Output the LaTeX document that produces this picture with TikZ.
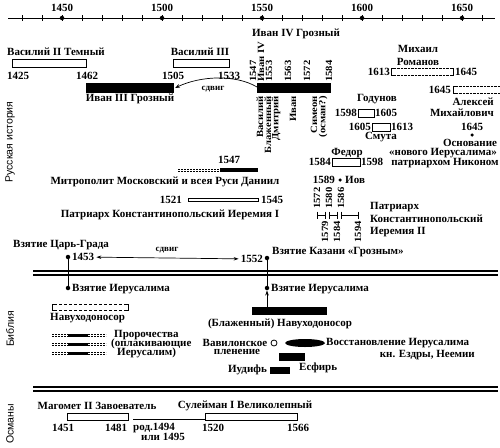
\documentclass[tikz,border=0pt]{standalone}
\usepackage{fontspec}
\setmainfont{Liberation Serif}
\setsansfont{Liberation Sans}
\newfontfamily\vfont[FakeStretch=1.12]{Liberation Serif}
\usetikzlibrary{arrows.meta}
\begin{document}
\begin{tikzpicture}[x=1pt,y=-1pt,
  every path/.style={>={Stealth[length=5pt,width=3.5pt]}},
  every node/.style={inner sep=0pt,font=\bfseries\fontsize{11}{12}\selectfont},
  small/.style={font=\bfseries\fontsize{9}{10}\selectfont},
  up/.style={rotate=90,font=\vfont\bfseries\fontsize{9.5}{10}\selectfont},
  side/.style={rotate=90,font=\sffamily\fontsize{10.5}{11}\selectfont},
  dot/.style={circle,fill=black,minimum size=4.5pt},
  openbar/.style={draw,line width=0.9pt,fill=white},
  sep/.style={line width=1.1pt}]
\useasboundingbox (0,0) rectangle (500,447);

\draw[line width=0.9pt] (8,18) -- (495,18);
\foreach \i in {0,...,23} \draw[line width=0.8pt] ({22+20*\i},15) -- ({22+20*\i},21);
\foreach \yr/\xx in {1450/62,1500/162,1550/262,1600/362,1650/462} {
  \node[dot] (d\yr) at (\xx,18) {};
  \node (t\yr) at (\xx,8) {\yr};
}

\node[side] (rus) at (10,142) {Русская история};
\node[side] (bib) at (10,329) {Библия};
\node[side] (osm) at (10,424) {Османы};

\draw[openbar] (12,59) rectangle (86,67);
\node[anchor=west] (vas2) at (7,52) {Василий II Темный};
\node (y1425) at (18,76) {1425};
\node (y1462) at (87,76) {1462};

\draw[openbar] (173,59) rectangle (229,67);
\node (vas3) at (200,52) {Василий III};
\node (y1505) at (173,76) {1505};
\node (y1533) at (229,76) {1533};

\fill (86,83) rectangle (174,93);
\coordinate (iv3) at (175,88);
\node (ivan3) at (130,99) {Иван III Грозный};

\fill (257,83) rectangle (331,93);
\coordinate (iv4) at (257,87);
\node (ivan4) at (296,34) {Иван IV Грозный};
\draw[->,line width=0.7pt] (iv4) .. controls (235,74) and (200,76) .. (iv3);
\node[small] (sdv1) at (213,89) {сдвиг};

\node[up,anchor=west] (a1547) at (253,82) {1547};
\node[up,anchor=west] (aiv) at (261,82) {Иван IV};
\node[up,anchor=west] (a1553) at (269,82) {1553};
\node[up,anchor=west] (a1563) at (288,82) {1563};
\node[up,anchor=west] (a1572) at (307,82) {1572};
\node[up,anchor=west] (a1584) at (329,82) {1584};
\node[up,anchor=east] (bvas) at (260,96) {Василий};
\node[up,anchor=east] (bbla) at (268,96) {Блаженный};
\node[up,anchor=east] (bdmi) at (276,96) {Дмитрий};
\node[up,anchor=east] (biva) at (293,96) {Иван};
\node[up,anchor=east] (bsim) at (314,96) {Симеон};
\node[up,anchor=east] (bosm) at (323,96) {(осман?)};

\node (mih) at (418,49) {Михаил};
\node (rom) at (418,62) {Романов};
\draw[densely dotted] (391,68) -- (453,68) (391,75) -- (453,75);
\draw (394,68) -- (391,68) -- (391,75) -- (394,75);
\draw (450,68) -- (453,68) -- (453,75) -- (450,75);
\node[anchor=east] (r1613) at (390,72) {1613};
\node[anchor=west] (r1645) at (455,72) {1645};

\draw[densely dotted] (453,86) -- (500,86) (453,93) -- (500,93);
\draw (456,86) -- (453,86) -- (453,93) -- (456,93);
\node[anchor=east] (al1645) at (451,90) {1645};
\node[anchor=east] (alex) at (494,102) {Алексей};
\node[anchor=east] (mihv) at (494,113) {Михайлович};

\node (god) at (377,99) {Годунов};
\draw[openbar] (358,109) rectangle (374,117);
\node[anchor=east] (g1598) at (357,113) {1598};
\node[anchor=west] (g1605) at (375,113) {1605};

\draw[openbar] (372,123) rectangle (390,131);
\node[anchor=east] (s1605) at (371,127) {1605};
\node[anchor=west] (s1613) at (391,127) {1613};
\node (smuta) at (381,137) {Смута};

\node (fed) at (347,153) {Федор};
\draw[openbar] (332,158) rectangle (360,166);
\node[anchor=east] (f1584) at (331,162) {1584};
\node[anchor=west] (f1598) at (361,162) {1598};

\node (n1645) at (472,127) {1645};
\node[dot,minimum size=3.5pt] (ndot) at (472,135) {};
\node (osn) at (470,143) {Основание};
\node (nov) at (443,153) {«нового Иерусалима»};
\node (nik) at (445,163) {патриархом Никоном};

\node[anchor=east] (i1589) at (335,180) {1589};
\node[dot,minimum size=3.5pt] (idot) at (340,180) {};
\node[anchor=west] (iov) at (345,180) {Иов};

\node (m1547) at (229,160) {1547};
\draw[dash pattern=on 2pt off 1pt] (178,168.8) -- (220,168.8) (178,171.2) -- (220,171.2);
\draw[line width=3.2pt] (220,170) -- (258,170);
\node (dan) at (165,182) {Митрополит Московский и всея Руси Даниил};

\node[anchor=east] (e1521) at (182,200) {1521};
\draw[line width=0.8pt] (188,198.3) rectangle (258,201.7);
\node[anchor=west] (e1545) at (261,200) {1545};
\node (ier1) at (170,215) {Патриарх Константинопольский Иеремия I};

\foreach \xa/\xb in {317/325,329/337,341/358} {
  \draw[line width=0.8pt] (\xa,215) -- (\xb,215) (\xa,211.5) -- (\xa,218.5) (\xb,211.5) -- (\xb,218.5);
}
\node[up,anchor=west] (p1572) at (317,209) {1572};
\node[up,anchor=west] (p1580) at (329,209) {1580};
\node[up,anchor=west] (p1586) at (341,209) {1586};
\node[up,anchor=east] (p1579) at (325,221) {1579};
\node[up,anchor=east] (p1584) at (337,221) {1584};
\node[up,anchor=east] (p1594) at (358,221) {1594};
\node[anchor=west] (ier2a) at (370,207) {Патриарх};
\node[anchor=west] (ier2b) at (370,219) {Константинопольский};
\node[anchor=west] (ier2c) at (370,232) {Иеремия II};

\node[anchor=west] (car) at (13,245) {Взятие Царь-Града};
\node[dot] (c1453) at (68,257) {};
\node[anchor=west] (y1453) at (72,257) {1453};
\node[dot] (c1552) at (267,258) {};
\node[anchor=east] (y1552) at (263,259) {1552};
\node[anchor=west] (kaz) at (272,252) {Взятие Казани «Грозным»};
\draw[<->,line width=0.7pt,shorten <=2pt,shorten >=2pt] (y1453) -- (y1552);
\node[small] (sdv2) at (167,250) {сдвиг};

\draw[sep] (33,271) -- (498,271);
\draw[sep] (33,275) -- (498,275);

\node[dot] (j1) at (68,288) {};
\node[anchor=west] (jer1) at (72,289) {Взятие Иерусалима};
\draw[line width=0.8pt] (c1453) -- (j1);
\node[dot] (j2) at (267,288) {};
\node[anchor=west] (jer2) at (271,289) {Взятие Иерусалима};
\draw[line width=0.8pt] (c1552) -- (j2);

\draw[dash pattern=on 3pt off 2pt] (54,304) -- (126,304) (54,310) -- (126,310);
\draw (55,304) -- (52,304) -- (52,310) -- (55,310);
\draw (125,304) -- (128,304) -- (128,310) -- (125,310);
\node[anchor=west] (nav1) at (50,318) {Навуходоносор};

\node[fill=black,minimum width=75pt,minimum height=8pt] (nav2) at (289.5,311) {};
\draw[->,line width=0.8pt] (nav2.north -| j2) -- (j2);
\node (blnav) at (280,324) {(Блаженный) Навуходоносор};

\foreach \yy in {335,344,353} {
  \draw[dash pattern=on 2pt off 1pt] (52,\yy-1.2) -- (68,\yy-1.2) (52,\yy+1.2) -- (68,\yy+1.2);
  \draw[line width=3pt] (68,\yy) -- (88,\yy);
  \draw[dash pattern=on 2pt off 1pt] (88,\yy-1.2) -- (106,\yy-1.2) (88,\yy+1.2) -- (106,\yy+1.2);
}
\node[anchor=west] (pr1) at (114,335) {Пророчества};
\node[anchor=west] (pr2) at (111,344) {(оплакивающие};
\node[anchor=west] (pr3) at (117,353) {Иерусалим)};

\node (vav) at (235,343) {Вавилонское};
\node (plen) at (237,352) {пленение};
\node[circle,draw,line width=0.8pt,minimum size=6pt] (ring) at (274,343) {};
\fill (305,343) ellipse (20 and 4);
\node[anchor=west] (vos) at (326,343) {Восстановление Иерусалима};
\node[anchor=east] (ezd) at (475,355) {кн. Ездры, Неемии};
\fill (279,353) rectangle (305,361);
\node[anchor=west] (esf) at (299,368) {Есфирь};
\node[anchor=east] (iud) at (267,370) {Иудифь};
\fill (270,367) rectangle (290,374);

\draw[sep] (33,387) -- (498,387);
\draw[sep] (33,391) -- (498,391);

\node (mag) at (97,406) {Магомет II Завоеватель};
\draw[openbar] (67,413) rectangle (128,420);
\node (o1451) at (63,428) {1451};
\node (o1481) at (116,428) {1481};
\draw[line width=0.9pt] (133,419) -- (205,419);
\node[anchor=west] (rod) at (133,428) {род.1494};
\node (ili) at (163,437) {или 1495};
\node (sul) at (245,406) {Сулейман I Великолепный};
\draw[openbar] (205,413) rectangle (297,420);
\node (o1520) at (213,428) {1520};
\node (o1566) at (298,428) {1566};
\end{tikzpicture}
\end{document}
